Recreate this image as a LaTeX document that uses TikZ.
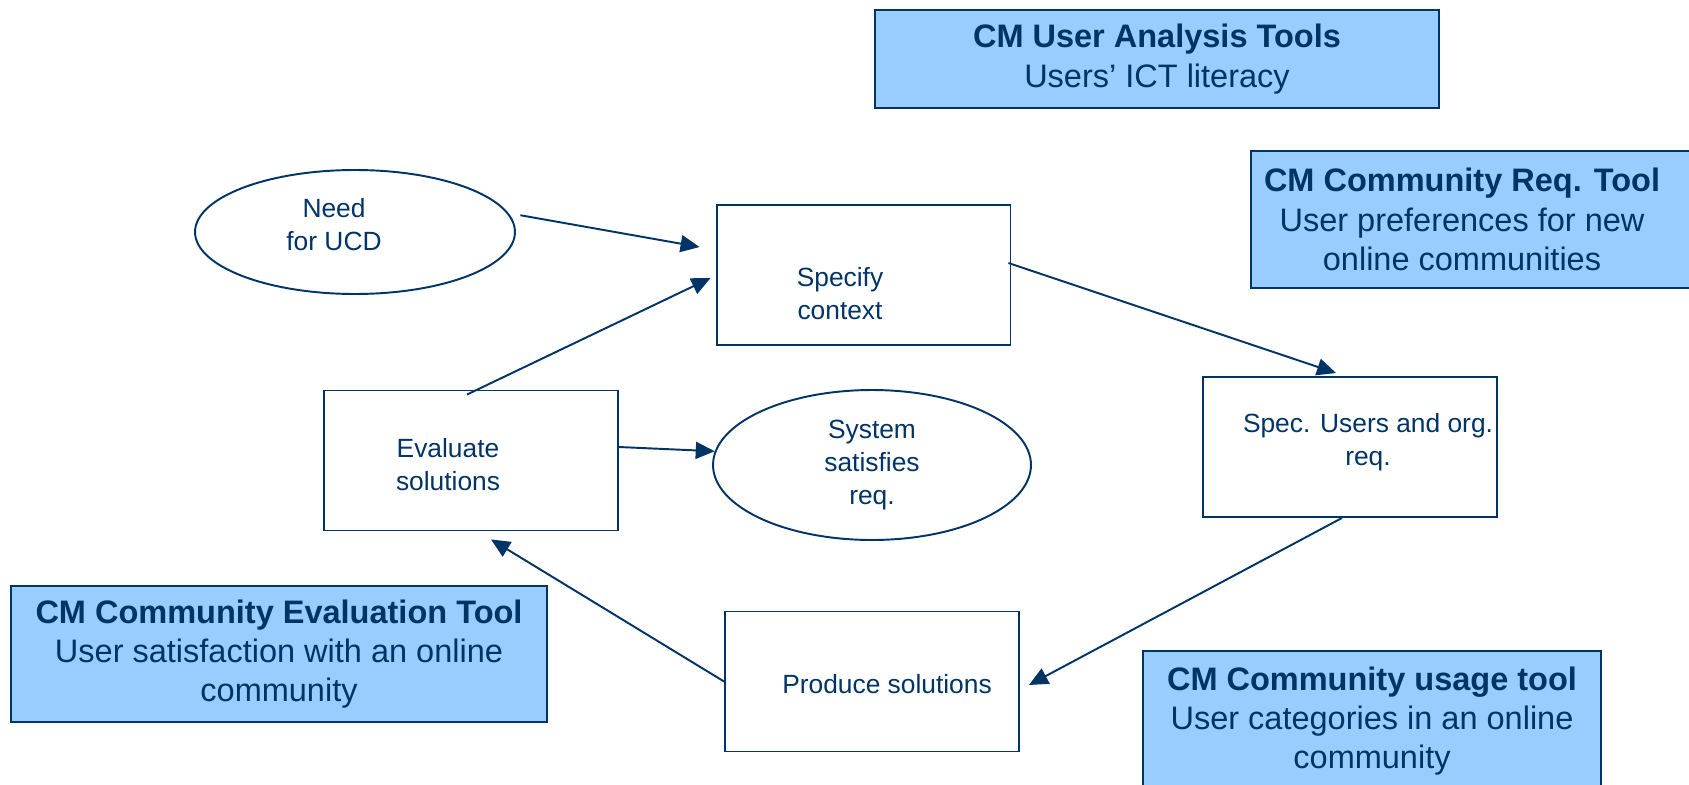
\documentclass[tikz,border=0pt]{standalone}
\usepackage{fontspec}
\setmainfont{Liberation Sans}
\usetikzlibrary{shapes.geometric,arrows.meta}
\definecolor{navy}{RGB}{0,51,102}
\definecolor{toolblue}{RGB}{153,204,255}
\tikzset{
  prozess/.style={draw=navy, line width=1.1pt, rectangle, minimum width=5.88cm, minimum height=2.8cm, inner sep=0pt},
  ziel/.style={draw=navy, line width=1.1pt, ellipse, inner sep=0pt, text=navy, align=center, font=\fontsize{15}{18.8}\selectfont},
  schrift/.style={text=navy, align=center, font=\fontsize{15}{18.8}\selectfont},
  werkzeug/.style={draw=navy, line width=1.1pt, fill=toolblue, rectangle, inner sep=0pt, text=navy, align=center, font=\fontsize{18.5}{22.4}\selectfont},
  werkzeugtext/.style={text=navy, align=center, font=\fontsize{18.5}{22.4}\selectfont},
  fluss/.style={draw=navy, line width=1.1pt, -{Triangle[length=0.38cm,width=0.34cm]}},
}
\begin{document}
\begin{tikzpicture}[x=0.02cm, y=-0.02cm]
  % Bildausschnitt
  \useasboundingbox (0,0) rectangle (1689,784);
  \clip (0,0) rectangle (1689,784);

  % Werkzeuge
  \node[werkzeug, minimum width=11.28cm, minimum height=1.96cm] (ua) at (1157,59)
    {{\bfseries CM User Analysis Tools}\\Users’ ICT literacy};
  \node[werkzeug, minimum width=9.18cm, minimum height=2.74cm,
    label={[werkzeugtext, xshift=-0.37cm]center:{{\bfseries CM Community Req. Tool}\\User preferences for new\\online communities}}] (req) at (1480.5,219.5) {};
  \node[werkzeug, minimum width=10.72cm, minimum height=2.72cm] (evtool) at (279,654)
    {{\bfseries CM Community Evaluation Tool}\\User satisfaction with an online\\community};
  \node[werkzeug, minimum width=9.16cm, minimum height=2.8cm] (usage) at (1372,721)
    {{\bfseries CM Community usage tool}\\User categories in an online\\community};

  % Prozessschritte
  \node[ziel, minimum width=6.4cm, minimum height=2.48cm,
    label={[schrift, xshift=-0.42cm, yshift=0.14cm]center:{Need\\for UCD}}] (need) at (355,232) {};
  \node[prozess, label={[schrift, xshift=-0.47cm, yshift=-0.38cm]center:{Specify\\context}}] (ctx) at (863.5,275) {};
  \node[prozess, label={[schrift, xshift=0.36cm, yshift=0.1cm]center:{Spec. Users and org.\\req.}}] (spec) at (1350,447) {};
  \node[prozess, label={[schrift, xshift=0.3cm, yshift=-0.05cm]center:{Produce solutions}}] (prod) at (872,681.5) {};
  \node[prozess, label={[schrift, xshift=-0.46cm, yshift=-0.09cm]center:{Evaluate\\solutions}}] (eval) at (471,460.5) {};
  \node[ziel, minimum width=6.36cm, minimum height=3cm] (sys) at (872,465) {System\\satisfies\\req.};

  % Pfeile
  \draw[fluss, shorten <=0.24cm] (need.7) -- ([xshift=-0.32cm, yshift=0.56cm]ctx.west);
  \draw[fluss] ([xshift=-0.08cm, yshift=-0.1cm]eval.north) -- ([xshift=-0.1cm, yshift=-0.06cm]ctx.west);
  \draw[fluss] ([xshift=-0.06cm, yshift=0.24cm]ctx.east) -- ([xshift=-0.28cm, yshift=0.06cm]spec.north);
  \draw[fluss] ([xshift=-0.16cm]spec.south) -- ([xshift=0.18cm, yshift=-0.07cm]prod.east);
  \draw[fluss] (prod.west) -- ([xshift=0.4cm, yshift=-0.16cm]eval.south);
  \draw[fluss] ([yshift=0.27cm]eval.east) -- (sys.175);
\end{tikzpicture}
\end{document}
